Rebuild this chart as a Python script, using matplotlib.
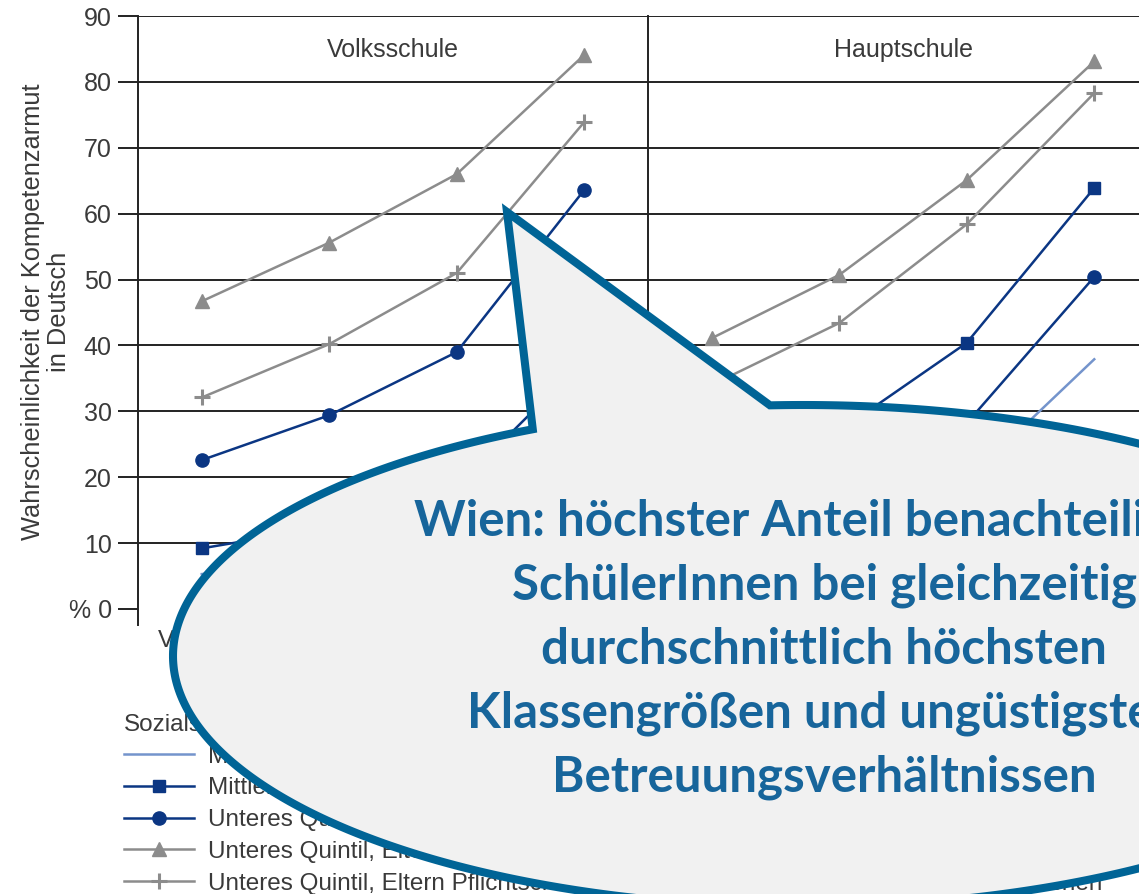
import matplotlib
matplotlib.use('Agg')
import matplotlib.pyplot as plt
import numpy as np
from matplotlib.path import Path
from matplotlib.patches import PathPatch

plt.rcParams['font.family'] = ['Liberation Sans', 'DejaVu Sans']

# ---------------- data ----------------
categories = ["Viertel 1", "Viertel 2", "Viertel 3", "Viertel 4"]
panel_titles = ["Volksschule", "Hauptschule"]
series_labels = [
    "Mittleres Quintil",
    "Mittleres Quintil, Migrationshintergrund",
    "Unteres Quintil",
    "Unteres Quintil, Eltern Pflichtschule, Migrationshintergrund",
    "Unteres Quintil, Eltern Pflichtschule, Migrationshintergrund, nicht Deutsch sprechen",
]
# Volksschule
vs_light = [5.3, 7.5, 11.0, 22.0]
vs_square = [9.2, 12.5, 18.5, 37.8]
vs_circle = [22.6, 29.4, 39.0, 63.6]
vs_triangle = [46.7, 55.6, 66.0, 84.1]
vs_plus = [32.1, 40.2, 51.0, 73.9]
# Hauptschule
hs_light = [8.0, 12.5, 19.5, 37.9]
hs_square = [18.0, 27.0, 40.4, 63.9]
hs_circle = [12.0, 18.5, 28.2, 50.4]
hs_triangle = [41.1, 50.7, 65.1, 83.1]
hs_plus = [34.0, 43.4, 58.4, 78.3]

yticks = [0, 10, 20, 30, 40, 50, 60, 70, 80, 90]
ytick_labels = ["% 0", "10", "20", "30", "40", "50", "60", "70", "80", "90"]
ylabel = "Wahrscheinlichkeit der Kompetenzarmut\nin Deutsch"
legend_title = "Sozialstatus"

bubble_lines = [
    "Wien: höchster Anteil benachteiligter",
    "SchülerInnen bei gleichzeitig",
    "durchschnittlich höchsten",
    "Klassengrößen und ungüstigsten",
    "Betreuungsverhältnissen",
]

# ---------------- styles ----------------
NAVY = '#0b3683'
GRAY = '#8c8c8c'
LIGHT = '#7494cc'
styles = [
    dict(color=LIGHT, lw=1.8, marker=None),
    dict(color=NAVY, lw=1.8, marker='s', ms=9),
    dict(color=NAVY, lw=1.8, marker='o', ms=9.5),
    dict(color=GRAY, lw=1.8, marker='^', ms=10),
    dict(color=GRAY, lw=1.8, marker='+', ms=12, mew=2.2),
]
GRID = '#222222'
TXT = '#3a3a3a'
FS = 17.5

W, H = 1139, 894
fig = plt.figure(figsize=(W / 100, H / 100), dpi=100)


def px_axes(x0, y0, x1, y1, **kw):
    return fig.add_axes([x0 / W, 1 - y1 / H, (x1 - x0) / W, (y1 - y0) / H], **kw)


ax1 = px_axes(138, 16, 648, 625)
ax2 = px_axes(648, 16, 1158, 625)

panel_data = [
    [vs_light, vs_square, vs_circle, vs_triangle, vs_plus],
    [hs_light, hs_square, hs_circle, hs_triangle, hs_plus],
]
x = np.arange(len(categories))
handles = []
for i, (ax, data, title) in enumerate(zip([ax1, ax2], panel_data, panel_titles)):
    for vals, st, lab in zip(data, styles, series_labels):
        ln, = ax.plot(x, vals, label=lab, **st)
        if i == 0:
            handles.append(ln)
    ax.set_xlim(-0.5, 3.5)
    ax.set_ylim(-2.43, 90)
    ax.set_yticks(yticks)
    ax.grid(axis='y', color=GRID, lw=1.4)
    ax.yaxis.get_gridlines()[0].set_visible(False)
    ax.set_axisbelow(True)
    for s in ['top', 'right', 'bottom']:
        ax.spines[s].set_visible(False)
    ax.spines['left'].set_color(GRID)
    ax.spines['left'].set_linewidth(1.4)
    ax.set_xticks(x)
    ax.set_xticklabels(categories)
    ax.tick_params(axis='x', length=0, pad=3.6, labelsize=FS, labelcolor=TXT)
    ax.text(1.5, 84.8, title, ha='center', va='center', fontsize=18, color=TXT)
    ax.patch.set_alpha(0)

ax1.set_yticklabels(ytick_labels)
ax1.tick_params(axis='y', direction='out', length=14.4, width=1.4, color=GRID,
                pad=4.5, labelsize=FS + 0.5, labelcolor=TXT)
ax2.tick_params(axis='y', length=0, labelleft=False)

ax1.set_ylabel(ylabel, fontsize=18.3, color=TXT, linespacing=1.12)
ax1.yaxis.label.set_va('center')
ax1.yaxis.set_label_coords((46 - 138) / 510, (625 - 312) / 609)

leg = fig.legend(handles, series_labels, loc='upper left',
                 bbox_to_anchor=(124 / W, 1 - 714 / H), frameon=False,
                 fontsize=FS, title=legend_title, title_fontsize=FS,
                 alignment='left', handlelength=2.9, handletextpad=0.55,
                 labelspacing=0.4, borderpad=0, borderaxespad=0)
for t in leg.get_texts():
    t.set_color(TXT)
leg.get_title().set_color(TXT)

# ---------------- speech bubble overlay ----------------
ov = fig.add_axes([0, 0, 1, 1], zorder=10)
ov.set_xlim(0, W)
ov.set_ylim(H, 0)
ov.axis('off')
ov.patch.set_alpha(0)

cx, cy, ea, eb = 803, 656, 630, 251
t = np.deg2rad(np.linspace(-93.0, 244.6, 500))
verts = list(zip(cx + ea * np.cos(t), cy + eb * np.sin(t)))
verts.append((507, 212))
verts.append(verts[0])
codes = [Path.MOVETO] + [Path.LINETO] * (len(verts) - 2) + [Path.CLOSEPOLY]
ov.add_patch(PathPatch(Path(verts, codes), facecolor='#f1f1f1', edgecolor='#006496',
                       lw=5.8, joinstyle='miter', clip_on=False))

baselines = [536, 600, 664, 728, 792]
for line, yb in zip(bubble_lines, baselines):
    ov.text(824, yb, line, ha='center', va='baseline', fontsize=35.5,
            fontweight='bold', family=['Lato', 'DejaVu Sans'], color='#17659b',
            clip_on=False)

fig.savefig('out.png', dpi=100)
